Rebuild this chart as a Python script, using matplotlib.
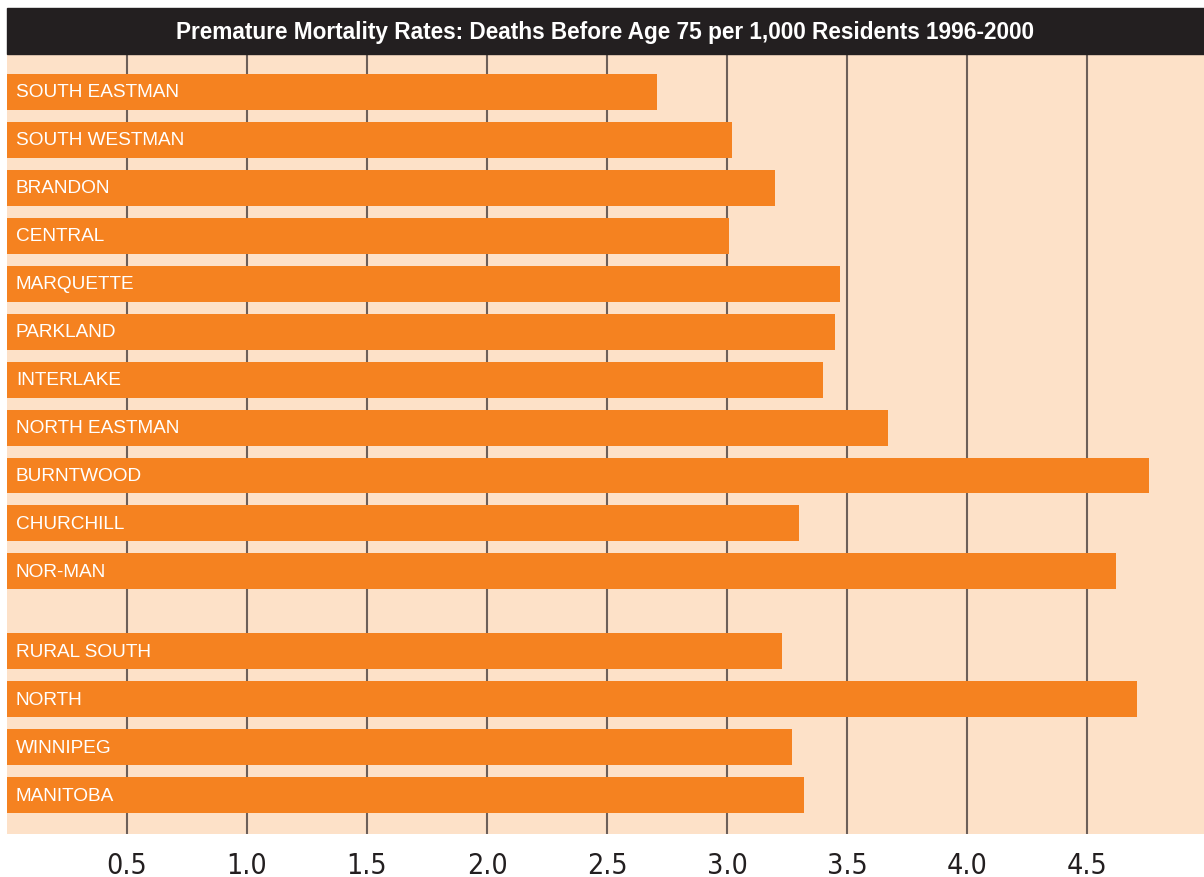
import matplotlib.pyplot as plt
from matplotlib.patches import Rectangle

# premature mortality, deaths before age 75 per 1,000 residents, 1996-2000
regions = ["SOUTH EASTMAN", "SOUTH WESTMAN", "BRANDON", "CENTRAL", "MARQUETTE",
           "PARKLAND", "INTERLAKE", "NORTH EASTMAN", "BURNTWOOD", "CHURCHILL", "NOR-MAN"]
region_rates = [2.71, 3.02, 3.20, 3.01, 3.47, 3.45, 3.40, 3.67, 4.76, 3.30, 4.62]

groups = ["RURAL SOUTH", "NORTH", "WINNIPEG", "MANITOBA"]
group_rates = [3.23, 4.71, 3.27, 3.32]

ticks = [0.5, 1.0, 1.5, 2.0, 2.5, 3.0, 3.5, 4.0, 4.5]
title = "Premature Mortality Rates: Deaths Before Age 75 per 1,000 Residents 1996-2000"

orange = "#f58220"
peach = "#fde1c8"
grid_col = "#6d5f59"
dark = "#231f20"

labels = regions + groups
rates = region_rates + group_rates
# regions first, then a gap before the grouped totals
ypos = list(range(len(regions))) + [len(regions) + 2 / 3 + j for j in range(len(groups))]

W, H = 1204, 878
fig = plt.figure(figsize=(W / 100, H / 100), dpi=100)
ax = fig.add_axes([7 / W, (H - 835) / H, 1 - 7 / W, (835 - 55) / H])
ax.set_facecolor(peach)

for t in ticks:
    ax.axvline(t, color=grid_col, lw=1.5, zorder=1)

ax.barh(ypos, rates, height=0.75, color=orange, zorder=2)
for y, lab in zip(ypos, labels):
    ax.text(0.037, y, lab, color="white", fontsize=13.7, va="center", ha="left",
            family="Liberation Sans", zorder=3)

ax.set_xlim(0, (W - 7) / 240)
ax.set_ylim(ypos[-1] + 0.81, -0.79)
ax.set_yticks([])
ax.set_xticks(ticks)
ax.set_xticklabels([f"{t:.1f}" for t in ticks], fontsize=20.5, color=dark,
                   family="DejaVu Sans", fontstretch="condensed")
ax.tick_params(axis="x", length=0, pad=12)
for s in ax.spines.values():
    s.set_visible(False)

# dark title strip above the plot
fig.patches.append(Rectangle((7 / W, (H - 55) / H), 1 - 7 / W, 46 / H,
                             transform=fig.transFigure, color=dark, zorder=0))
fig.text((7 + W) / 2 / W, (H - 32) / H, title, color="white", fontsize=16.3,
         fontweight="bold", ha="center", va="center", family="Liberation Sans")

fig.savefig("out.png", dpi=100)
